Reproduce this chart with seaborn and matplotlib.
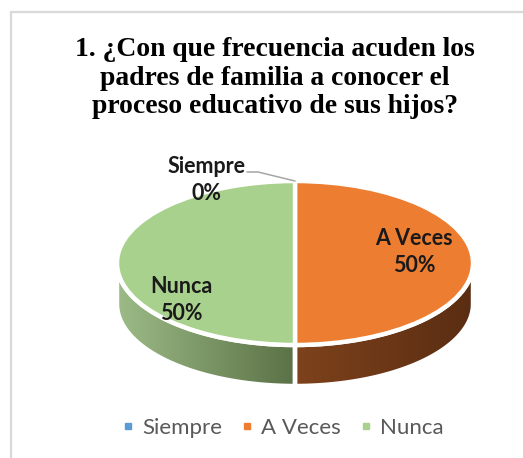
import numpy as np
import matplotlib
matplotlib.use("Agg")
import matplotlib.pyplot as plt
import seaborn as sns
from matplotlib.patches import Polygon, Rectangle
from matplotlib.lines import Line2D
from matplotlib.colors import LinearSegmentedColormap

# ---- data ----
categories = ["Siempre", "A Veces", "Nunca"]
values = [0, 50, 50]
pct_labels = ["0%", "50%", "50%"]
title = "1. ¿Con que frecuencia acuden los\npadres de familia a conocer el\nproceso educativo de sus hijos?"

colors = ["#5B9BD5", "#ED7D31", "#A9D18E"]
side_colors = {"Siempre": ("#4a7fb0", "#2f5d88"),
               "A Veces": ("#7e421c", "#5a2d12"),
               "Nunca": ("#9cbb87", "#5b7146")}

sns.set_theme(style="white")
plt.rcParams["font.family"] = ["Lato", "DejaVu Sans"]

W, H = 523, 458
fig = plt.figure(figsize=(W / 100, H / 100), dpi=100)
fig.patch.set_facecolor("white")

# geometry of the 3D pie in pixels
cx, cy = 295, 263      # centre of top ellipse (pixels from top)
a, b = 178, 82         # semi axes
depth_px = 41

ax = fig.add_axes([0, 0, 1, 1])

def px2data(px, py):
    return (px - cx) / a, (cy - py) / b

wedges, _ = ax.pie(values, colors=colors, startangle=90, counterclock=False,
                   radius=1, center=(0, 0),
                   wedgeprops=dict(edgecolor="white", linewidth=3.2, zorder=5))

depth = depth_px / b
# sides
for w, cat in zip(wedges, categories):
    t = np.linspace(np.radians(w.theta1), np.radians(w.theta2), 600)
    t = t[np.sin(t) <= 1e-9]
    if len(t) < 2:
        continue
    xs, ys = np.cos(t), np.sin(t)
    verts = np.concatenate([np.column_stack([xs, ys]),
                            np.column_stack([xs[::-1], ys[::-1] - depth])])
    poly = Polygon(verts, closed=True, facecolor="none", edgecolor="none", zorder=2)
    ax.add_patch(poly)
    c1, c2 = side_colors[cat]
    cmap = LinearSegmentedColormap.from_list(cat, [c1, c2])
    grad = np.linspace(0, 1, 256).reshape(1, -1)
    im = ax.imshow(grad, cmap=cmap, aspect="auto", zorder=2,
                   extent=(xs.min(), xs.max(), ys.min() - depth, ys.max()))
    im.set_clip_path(poly)
    ax.add_patch(Polygon(verts, closed=True, facecolor="none", edgecolor="white",
                         linewidth=3.2, zorder=3))

ax.set_aspect("auto")
ax.set_xlim(-cx / a, (W - cx) / a)
ax.set_ylim(-(H - cy) / b, cy / b)
ax.axis("off")

# data labels
lab_font = dict(fontsize=15.5, fontweight="bold", color="#1a1a1a",
                ha="center", va="center", linespacing=1.4, zorder=10)
label_pos = {"Siempre": (207, 180), "A Veces": (414, 252), "Nunca": (181, 300)}
for cat, p in zip(categories, pct_labels):
    x, y = px2data(*label_pos[cat])
    ax.text(x, y, f"{cat}\n{p}", **lab_font)

# leader line for the zero slice
w0 = wedges[0]
ang = np.radians(w0.theta1)
ex, ey = np.cos(ang), np.sin(ang)
p1 = px2data(247, 172)
p2 = px2data(258, 172)
ax.plot([p1[0], p2[0], ex], [p1[1], p2[1], ey], color="#a6a6a6", lw=1.1, zorder=9)

# title
fig.text(275 / W, 1 - 78 / H, title, ha="center", va="center",
         fontsize=19.9, fontweight="bold", family="Liberation Serif",
         color="black", linespacing=1.16)

# legend
handles = [Line2D([], [], marker="s", linestyle="none", markersize=5,
                  markerfacecolor=c, markeredgecolor=c) for c in colors]
fig.legend(handles, categories, loc="center", bbox_to_anchor=(282 / W, 1 - 428 / H),
           ncol=3, frameon=False, fontsize=16.0, labelcolor="#595959",
           handletextpad=0.3, columnspacing=0.75, handlelength=0.7)

# chart frame
fig.patches.append(Rectangle((11 / W, -0.1), 1.2, 1 - 12 / H + 0.1,
                             transform=fig.transFigure, facecolor="none",
                             edgecolor="#d9d9d9", linewidth=1.6, zorder=20))

fig.savefig("out.png", dpi=100)
